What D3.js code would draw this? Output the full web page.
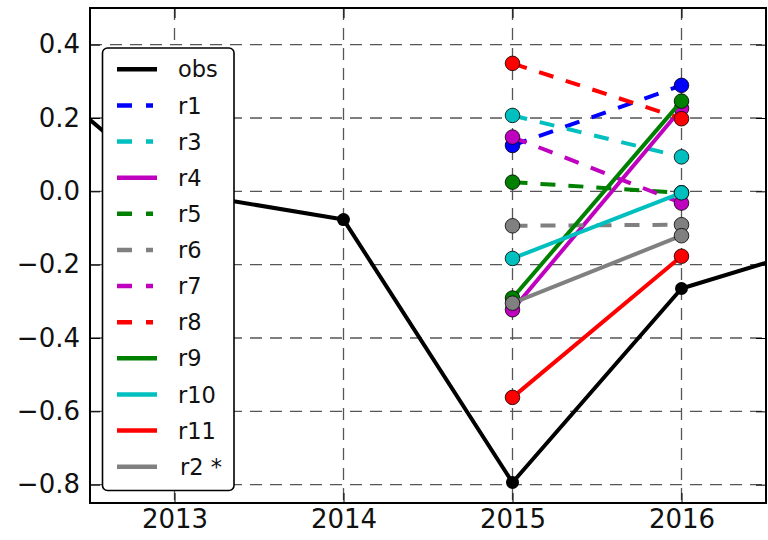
<!DOCTYPE html>
<html>
<head>
<meta charset="utf-8">
<script src="https://cdn.jsdelivr.net/npm/d3@7"></script>
<style>
  body { margin: 0; background: #fff; }
  svg { display: block; font-family: "DejaVu Sans", sans-serif; }
</style>
</head>
<body>
<svg id="chart" width="768" height="540"></svg>
<script>
// data
const years = [2015, 2016];
const obsYears = [2012, 2013, 2014, 2015, 2016, 2017];
const obsValues = [0.39, 0.0, -0.077, -0.794, -0.265, -0.125];
const r1 = [0.125, 0.289];
const r3 = [0.207, 0.094];
const r4 = [-0.323, 0.226];
const r5 = [0.025, -0.004];
const r6 = [-0.094, -0.091];
const r7 = [0.148, -0.032];
const r8 = [0.349, 0.198];
const r9 = [-0.291, 0.246];
const r10 = [-0.183, -0.004];
const r11 = [-0.562, -0.177];
const r2 = [-0.305, -0.121];
const runNames = ["r1", "r3", "r4", "r5", "r6", "r7", "r8", "r9", "r10", "r11", "r2 *"];
const runValues = [r1, r3, r4, r5, r6, r7, r8, r9, r10, r11, r2];
const xTicks = [2013, 2014, 2015, 2016];
const yTicks = [0.4, 0.2, 0.0, -0.2, -0.4, -0.6, -0.8];

// styles (matplotlib classic colours)
const styles = {
  "r1": { color: "#0000ff", dashed: true },
  "r3": { color: "#00bfbf", dashed: true },
  "r4": { color: "#bf00bf", dashed: false },
  "r5": { color: "#008000", dashed: true },
  "r6": { color: "#808080", dashed: true },
  "r7": { color: "#bf00bf", dashed: true },
  "r8": { color: "#ff0000", dashed: true },
  "r9": { color: "#008000", dashed: false },
  "r10": { color: "#00bfbf", dashed: false },
  "r11": { color: "#ff0000", dashed: false },
  "r2 *": { color: "#808080", dashed: false },
};

const margin = { top: 8, right: 2, bottom: 37, left: 90 };
const W = 768, H = 540;
const width = W - margin.left - margin.right;
const height = H - margin.top - margin.bottom;

const svg = d3.select("#chart");
const g = svg.append("g").attr("transform", `translate(${margin.left},${margin.top})`);

const x = d3.scaleLinear().domain([2012.5, 2016.5]).range([0, width]);
const y = d3.scaleLinear().domain([-0.85, 0.5]).range([height, 0]);

g.append("clipPath").attr("id", "clip")
  .append("rect").attr("width", width).attr("height", height);

// grid
const grid = g.append("g").attr("class", "grid");
grid.selectAll(".gx").data(xTicks).enter().append("line")
  .attr("x1", d => x(d)).attr("x2", d => x(d))
  .attr("y1", 0).attr("y2", height)
  .attr("stroke", "#555").attr("stroke-width", 1.3).attr("stroke-dasharray", "12,8");
grid.selectAll(".gy").data(yTicks).enter().append("line")
  .attr("x1", 0).attr("x2", width)
  .attr("y1", d => y(d)).attr("y2", d => y(d))
  .attr("stroke", "#555").attr("stroke-width", 1.3).attr("stroke-dasharray", "12,8");

// axes with inward ticks on all sides
const fmt = d => d3.format(".1f")(d).replace("-", "\u2212");
const tickLen = 10;
const axisLeft = d3.axisLeft(y).tickValues(yTicks).tickFormat(fmt).tickSizeInner(-tickLen).tickSizeOuter(0).tickPadding(10);
const axisRight = d3.axisRight(y).tickValues(yTicks).tickFormat("").tickSizeInner(-tickLen).tickSizeOuter(0);
const axisBottom = d3.axisBottom(x).tickValues(xTicks).tickFormat(d3.format("d")).tickSizeInner(-tickLen).tickSizeOuter(0).tickPadding(7);
const axisTop = d3.axisTop(x).tickValues(xTicks).tickFormat("").tickSizeInner(-tickLen).tickSizeOuter(0);

function styleAxis(sel) {
  sel.select(".domain").remove();
  sel.selectAll(".tick line").attr("stroke", "#000").attr("stroke-width", 1);
  sel.selectAll(".tick text").attr("fill", "#111").attr("font-size", 26)
    .attr("font-family", "DejaVu Sans, sans-serif");
}
g.append("g").call(axisLeft).call(styleAxis);
g.append("g").attr("transform", `translate(${width},0)`).call(axisRight).call(styleAxis);
g.append("g").attr("transform", `translate(0,${height})`).call(axisBottom).call(styleAxis);
g.append("g").call(axisTop).call(styleAxis);

// plotted lines
const plot = g.append("g").attr("clip-path", "url(#clip)");
const line = d3.line().x(d => x(d[0])).y(d => y(d[1]));

const obsPts = obsYears.map((yr, i) => [yr, obsValues[i]]);
plot.append("path").datum(obsPts)
  .attr("d", line).attr("fill", "none")
  .attr("stroke", "#000").attr("stroke-width", 4).attr("stroke-linejoin", "round");
plot.selectAll(".obsdot").data(obsPts).enter().append("circle")
  .attr("cx", d => x(d[0])).attr("cy", d => y(d[1])).attr("r", 6.5).attr("fill", "#000");

runNames.forEach((name, i) => {
  const st = styles[name];
  const pts = years.map((yr, j) => [yr, runValues[i][j]]);
  const s = plot.append("g");
  s.append("path").datum(pts)
    .attr("d", line).attr("fill", "none")
    .attr("stroke", st.color).attr("stroke-width", 4)
    .attr("stroke-dasharray", st.dashed ? "15,13" : null);
  s.selectAll("circle").data(pts).enter().append("circle")
    .attr("cx", d => x(d[0])).attr("cy", d => y(d[1])).attr("r", 7.3)
    .attr("fill", st.color).attr("stroke", "#000").attr("stroke-width", 0.8);
});

// frame
g.append("rect").attr("width", width).attr("height", height)
  .attr("fill", "none").attr("stroke", "#000").attr("stroke-width", 2);

// legend
const legend = svg.append("g").attr("class", "legend");
legend.append("rect")
  .attr("x", 102.5).attr("y", 48).attr("width", 131.5).attr("height", 442.5)
  .attr("rx", 5).attr("fill", "#fff").attr("stroke", "#000").attr("stroke-width", 1.6);

const legendItems = [{ name: "obs", color: "#000", dashed: false }]
  .concat(runNames.map(n => ({ name: n, color: styles[n].color, dashed: styles[n].dashed })));
const rowY = d3.scaleLinear().domain([0, legendItems.length - 1]).range([69.3, 466.7]);

const rows = legend.selectAll(".row").data(legendItems).enter().append("g")
  .attr("transform", (d, i) => `translate(0,${rowY(i)})`);
rows.append("line")
  .attr("x1", 117).attr("x2", 157).attr("y1", 0).attr("y2", 0)
  .attr("stroke", d => d.color).attr("stroke-width", 4.5)
  .attr("stroke-dasharray", d => d.dashed ? "15,14,7,20" : null);
rows.append("text")
  .attr("x", d => d.name === "r2 *" ? 180 : 178).attr("y", 0).attr("dy", "0.36em")
  .attr("font-size", 22.5).attr("fill", "#111")
  .text(d => d.name);
</script>
</body>
</html>
